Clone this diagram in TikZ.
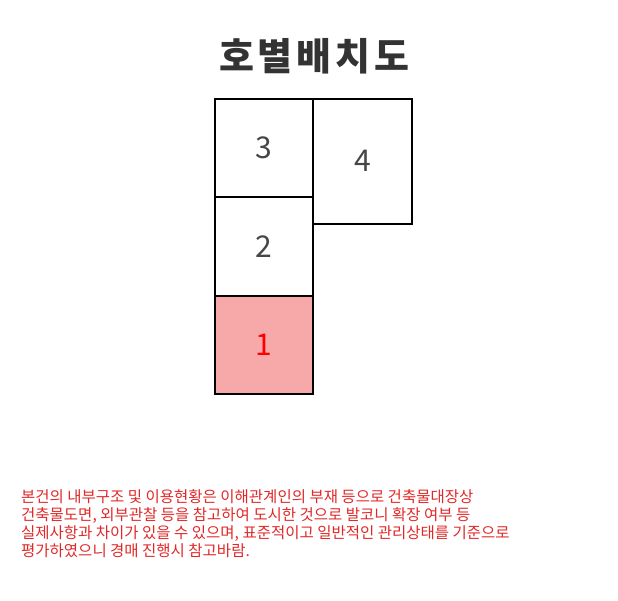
\documentclass[tikz,border=0pt]{standalone}
\usepackage{fontspec}
\setmainfont{Noto Sans CJK KR}
\usetikzlibrary{positioning}
\definecolor{roomfill}{RGB}{247,168,168}
\definecolor{notered}{RGB}{225,40,40}
\definecolor{labelgray}{RGB}{70,70,70}
\tikzset{
  room/.style={draw,line width=2pt,minimum width=98.5pt,minimum height=98.5pt,outer sep=0pt,inner sep=0pt,
    font=\fontsize{30}{30}\selectfont,text=labelgray},
  title/.style={font=\fontsize{38}{38}\selectfont\bfseries\addfontfeatures{LetterSpace=10},text=black!80},
  note/.style={anchor=north west,align=left,text=notered,inner sep=0pt,font=\fontsize{15.5}{18}\selectfont}
}
\begin{document}
\begin{tikzpicture}[x=1pt,y=-1pt]
\useasboundingbox (0,0) rectangle (618,600);
\node[title] (T) at (314,56) {호별배치도};
\node[room] (r3) at (264,148) {3};
\node[room,below=0pt of r3] (r2) {2};
\node[room,below=0pt of r2,fill=roomfill,text=red] (r1) {1};
\node[room,minimum height=125pt,anchor=north west] (r4) at (r3.north east) {4};
\node[note] (N) at (21,489) {본건의 내부구조 및 이용현황은 이해관계인의 부재 등으로 건축물대장상\\
건축물도면, 외부관찰 등을 참고하여 도시한 것으로 발코니 확장 여부 등\\
실제사항과 차이가 있을 수 있으며, 표준적이고 일반적인 관리상태를 기준으로\\
평가하였으니 경매 진행시 참고바람.};
\end{tikzpicture}
\end{document}
